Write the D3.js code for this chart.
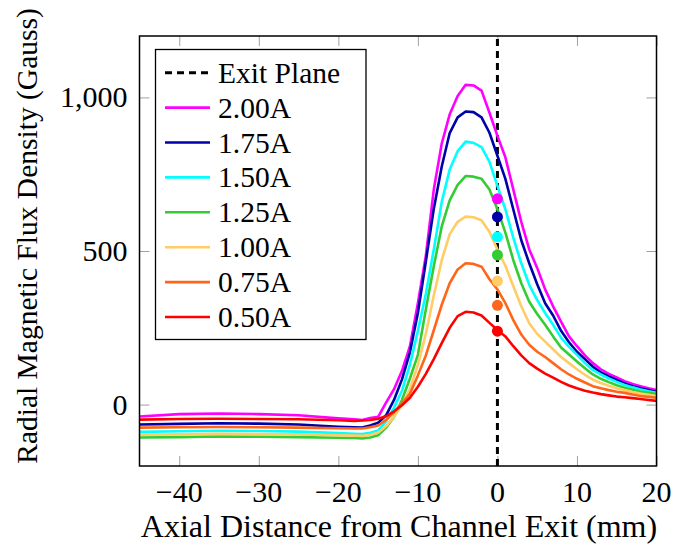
<!DOCTYPE html>
<html>
<head>
<meta charset="utf-8">
<script src="https://cdn.jsdelivr.net/npm/d3@7"></script>
<style>
  body { margin: 0; background: #fff; }
  svg { display: block; }
</style>
</head>
<body>
<script>
'use strict';

// axial positions (mm) shared by every series
const xs = [-45, -40, -35, -30, -25, -20, -18, -17, -16,
    -15, -14, -13, -12, -11, -10, -9, -8, -7, -6, -5, -4, -3, -2, -1,
    0, 1, 2, 3, 4, 5, 6, 7, 8, 9, 10, 11, 12, 13, 14, 15, 16, 17, 18, 19, 20];

// radial flux density (Gauss) per coil current
const b200 = [-39, -31, -29, -31, -35, -45, -48, -50, -44,
    -40, 6, 50, 110, 190, 330, 485, 700, 850, 945, 1005, 1041, 1039, 1022, 950,
    875, 805, 700, 595, 505, 445, 375, 320, 270, 222, 190, 160, 135, 115, 100, 88, 76, 67, 60, 53, 47];
const b175 = [-65, -63, -61, -62, -65, -72, -74, -75, -68,
    -59, -35, 15, 82, 170, 298, 466, 637, 775, 884, 935, 954, 952, 935, 885,
    810, 735, 635, 535, 460, 392, 330, 290, 240, 203, 172, 148, 123, 105, 92, 80, 69, 60, 53, 47, 41];
const b150 = [-89, -87, -85, -86, -88, -93, -95, -96, -92,
    -84, -55, -10, 45, 130, 240, 360, 505, 660, 765, 825, 856, 852, 838, 790,
    712, 636, 543, 460, 390, 340, 298, 260, 218, 188, 162, 135, 112, 98, 85, 74, 64, 56, 49, 43, 38];
const b125 = [-107, -106, -104, -105, -106, -108, -109, -110, -107,
    -100, -75, -40, 15, 85, 162, 310, 450, 580, 665, 715, 744, 742, 735, 700,
    636, 560, 470, 395, 335, 295, 260, 222, 186, 163, 140, 118, 98, 84, 73, 63, 55, 48, 42, 38, 34];
const b100 = [-98, -97, -95, -96, -97, -100, -101, -102, -98,
    -92, -70, -40, 0, 50, 130, 230, 355, 470, 555, 595, 612, 610, 600, 562,
    505, 452, 385, 320, 265, 230, 205, 180, 155, 135, 115, 97, 81, 70, 61, 53, 47, 41, 36, 32, 28];
const b075 = [-75, -74, -73, -74, -75, -77, -78, -78, -74,
    -68, -50, -25, 5, 35, 95, 160, 242, 325, 395, 440, 460, 458, 449, 408,
    375, 330, 275, 228, 195, 172, 155, 135, 115, 98, 84, 72, 60, 53, 47, 42, 38, 33, 28, 25, 22];
const b050 = [-49, -47, -46, -47, -48, -51, -53, -52, -50,
    -46, -38, -22, -2, 22, 58, 100, 148, 200, 250, 288, 302, 300, 290, 266,
    243, 222, 190, 160, 135, 117, 101, 88, 74, 62, 53, 45, 39, 34, 30, 26, 24, 21, 18, 15, 12];

const labels = ["2.00A", "1.75A", "1.50A", "1.25A", "1.00A", "0.75A", "0.50A"];
const colors = ["#ff00ff", "#0000aa", "#00ffff", "#33cc33", "#ffcc66", "#ff6619", "#ff0000"];
// single values measured at the exit plane (x = 0)
const exitValues = [670, 611, 546, 487, 402, 323, 239];

const xTicks = [-40, -30, -20, -10, 0, 10, 20];
const yTicks = [0, 500, 1000];

const series = [b200, b175, b150, b125, b100, b075, b050];

(function() {
    const width = 673, height = 547;
    const pLeft = 139.5, pRight = 656.5, pTop = 36, pBottom = 466;

    const svg = d3.select("body").append("svg")
        .attr("width", width)
        .attr("height", height)
        .attr("font-family", "'Liberation Serif', 'DejaVu Serif', serif");

    const x = d3.scaleLinear().domain([-45, 20]).range([pLeft, pRight]);
    const y = d3.scaleLinear().domain([-200, 1200]).range([pBottom, pTop]);

    // inward ticks on all four sides, pgfplots style
    const tickLen = 10;
    const tickColor = "#a0a0a0";
    function ticks(axis, tx, ty) {
        svg.append("g")
            .attr("transform", "translate(" + tx + "," + ty + ")")
            .call(axis.tickSize(tickLen).tickFormat(""))
            .call(g => g.select(".domain").remove())
            .call(g => g.selectAll("line").attr("stroke", tickColor));
    }
    ticks(d3.axisTop(x).tickValues(xTicks), 0, pBottom);
    ticks(d3.axisBottom(x).tickValues(xTicks), 0, pTop);
    ticks(d3.axisRight(y).tickValues(yTicks), pLeft, 0);
    ticks(d3.axisLeft(y).tickValues(yTicks), pRight, 0);

    // tick labels
    svg.selectAll(".xlab")
        .data(xTicks)
        .enter()
        .append("text")
        .attr("x", d => x(d))
        .attr("y", pBottom + 36)
        .attr("text-anchor", "middle")
        .attr("font-size", "30px")
        .text(d => d < 0 ? "\u2212" + Math.abs(d) : d);
    svg.selectAll(".ylab")
        .data(yTicks)
        .enter()
        .append("text")
        .attr("x", pLeft - 12)
        .attr("y", d => y(d) + 10)
        .attr("text-anchor", "end")
        .attr("font-size", "30px")
        .text(d => d3.format(",")(d));

    // axis titles
    svg.append("text")
        .attr("x", (pLeft + pRight) / 2 + 1)
        .attr("y", 537)
        .attr("text-anchor", "middle")
        .attr("font-size", "32px")
        .text("Axial Distance from Channel Exit (mm)");
    svg.append("text")
        .attr("transform", "translate(37,236) rotate(-90)")
        .attr("text-anchor", "middle")
        .attr("font-size", "29.5px")
        .text("Radial Magnetic Flux Density (Gauss)");

    const plot = svg.append("g");

    // exit plane
    plot.append("line")
        .attr("x1", x(0)).attr("x2", x(0))
        .attr("y1", y(-200)).attr("y2", y(1200))
        .attr("stroke", "#000")
        .attr("stroke-width", 3)
        .attr("stroke-dasharray", "7,5");

    const line = d3.line()
        .x((d, i) => x(xs[i]))
        .y(d => y(d));

    plot.selectAll(".curve")
        .data(series)
        .enter()
        .append("path")
        .attr("class", "curve")
        .attr("d", line)
        .attr("fill", "none")
        .attr("stroke", (d, i) => colors[i])
        .attr("stroke-width", 2.6)
        .attr("stroke-linejoin", "round");

    plot.selectAll(".exitdot")
        .data(exitValues)
        .enter()
        .append("circle")
        .attr("cx", x(0))
        .attr("cy", d => y(d))
        .attr("r", 5.5)
        .attr("fill", (d, i) => colors[i]);

    // frame
    svg.append("rect")
        .attr("x", pLeft).attr("y", pTop)
        .attr("width", pRight - pLeft).attr("height", pBottom - pTop)
        .attr("fill", "none")
        .attr("stroke", "#000")
        .attr("stroke-width", 1.5);

    // legend
    const legend = svg.append("g");
    legend.append("rect")
        .attr("x", 155.5).attr("y", 49.5)
        .attr("width", 210.5).attr("height", 290)
        .attr("fill", "#fff")
        .attr("stroke", "#000")
        .attr("stroke-width", 1.3);

    const rowY = i => 72.7 + i * 34.9;
    const entries = [{label: "Exit Plane", color: "#000", dash: "7,5"}]
        .concat(labels.map((l, i) => ({label: l, color: colors[i], dash: null})));

    const rows = legend.selectAll(".entry")
        .data(entries)
        .enter()
        .append("g")
        .attr("transform", (d, i) => "translate(0," + rowY(i) + ")");
    rows.append("line")
        .attr("x1", 165).attr("x2", 210)
        .attr("stroke", d => d.color)
        .attr("stroke-width", d => d.dash ? 3 : 2.6)
        .attr("stroke-dasharray", d => d.dash);
    rows.append("text")
        .attr("x", 218)
        .attr("y", 10)
        .attr("font-size", "29.5px")
        .text(d => d.label);
})();
</script>
</body>
</html>
